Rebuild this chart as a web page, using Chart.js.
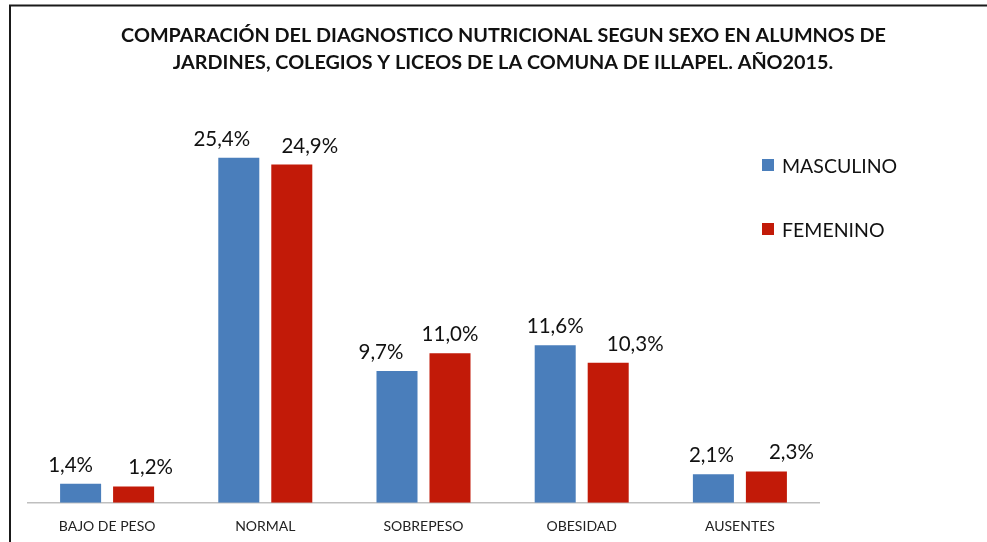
<!DOCTYPE html>
<html>
<head>
<meta charset="utf-8">
<script src="https://cdn.jsdelivr.net/npm/chart.js@4.4.1/dist/chart.umd.min.js"></script>
<style>
  html, body { margin: 0; padding: 0; background: #ffffff; }
  #wrap { position: relative; width: 987px; height: 542px; }
  canvas { display: block; }
</style>
</head>
<body>
<div id="wrap"><canvas id="c" width="987" height="542"></canvas></div>
<script>
// ---- data ----
const titleLines = [
  'COMPARACIÓN DEL DIAGNOSTICO NUTRICIONAL SEGUN SEXO EN ALUMNOS DE',
  'JARDINES, COLEGIOS Y LICEOS DE LA COMUNA DE ILLAPEL. AÑO2015.'
];
const categories = ['BAJO DE PESO', 'NORMAL', 'SOBREPESO', 'OBESIDAD', 'AUSENTES'];
const seriesNames = ['MASCULINO', 'FEMENINO'];
const masculino = [1.4, 25.4, 9.7, 11.6, 2.1];
const femenino  = [1.2, 24.9, 11.0, 10.3, 2.3];

// ---- styles ----
const colors = ['#4A7EBB', '#C21A08'];
const FONT = 'Lato, "Noto Sans", sans-serif';
const labelDx = [[-10, -17, -16, 0, -2], [17, 18, 0, 27, 25]];

function fmt(v) { return v.toFixed(1).replace('.', ',') + '%'; }

const decor = {
  id: 'decor',
  afterDraw(chart) {
    const ctx = chart.ctx;
    ctx.save();
    // frame (left and top edges)
    ctx.strokeStyle = '#1a1a1a';
    ctx.lineWidth = 2;
    ctx.beginPath();
    ctx.moveTo(10, 542);
    ctx.lineTo(10, 5.5);
    ctx.lineTo(987, 5.5);
    ctx.stroke();

    // title
    ctx.fillStyle = '#111111';
    ctx.textAlign = 'center';
    ctx.textBaseline = 'alphabetic';
    ctx.font = 'bold 19.8px ' + FONT;
    ctx.fillText(titleLines[0], 503.5, 41.7);
    ctx.fillText(titleLines[1], 503, 69.3);

    // data labels
    ctx.font = '20.5px ' + FONT;
    ctx.fillStyle = '#111111';
    chart.data.datasets.forEach((ds, di) => {
      const meta = chart.getDatasetMeta(di);
      meta.data.forEach((bar, i) => {
        ctx.fillText(fmt(ds.data[i]), bar.x + labelDx[di][i], bar.y - 12);
      });
    });

    // legend
    ctx.textAlign = 'left';
    ctx.font = '19.5px ' + FONT;
    chart.data.datasets.forEach((ds, di) => {
      const y = 159 + di * 64;
      ctx.fillStyle = ds.backgroundColor;
      ctx.fillRect(762, y, 12, 12);
      ctx.fillStyle = '#111111';
      ctx.fillText(ds.label, 782, y + 14);
    });
    ctx.restore();
  }
};

new Chart(document.getElementById('c'), {
  type: 'bar',
  data: {
    labels: categories,
    datasets: [
      { label: seriesNames[0], data: masculino, backgroundColor: colors[0] },
      { label: seriesNames[1], data: femenino, backgroundColor: colors[1] }
    ]
  },
  options: {
    responsive: false,
    animation: false,
    devicePixelRatio: 1,
    categoryPercentage: 0.67,
    barPercentage: 0.774,
    layout: { padding: { left: 28, right: 168, top: 95.3, bottom: 0 } },
    plugins: {
      legend: { display: false },
      title: { display: false },
      tooltip: { enabled: false }
    },
    scales: {
      x: {
        grid: { display: false },
        border: { display: true, color: '#BFBFBF', width: 1.5 },
        ticks: { color: '#222222', font: { family: FONT, size: 14 }, padding: 7, maxRotation: 0 },
        afterFit(scale) { scale.height = 39.3; }
      },
      y: {
        display: false,
        min: 0,
        max: 30
      }
    }
  },
  plugins: [decor]
});
</script>
</body>
</html>
